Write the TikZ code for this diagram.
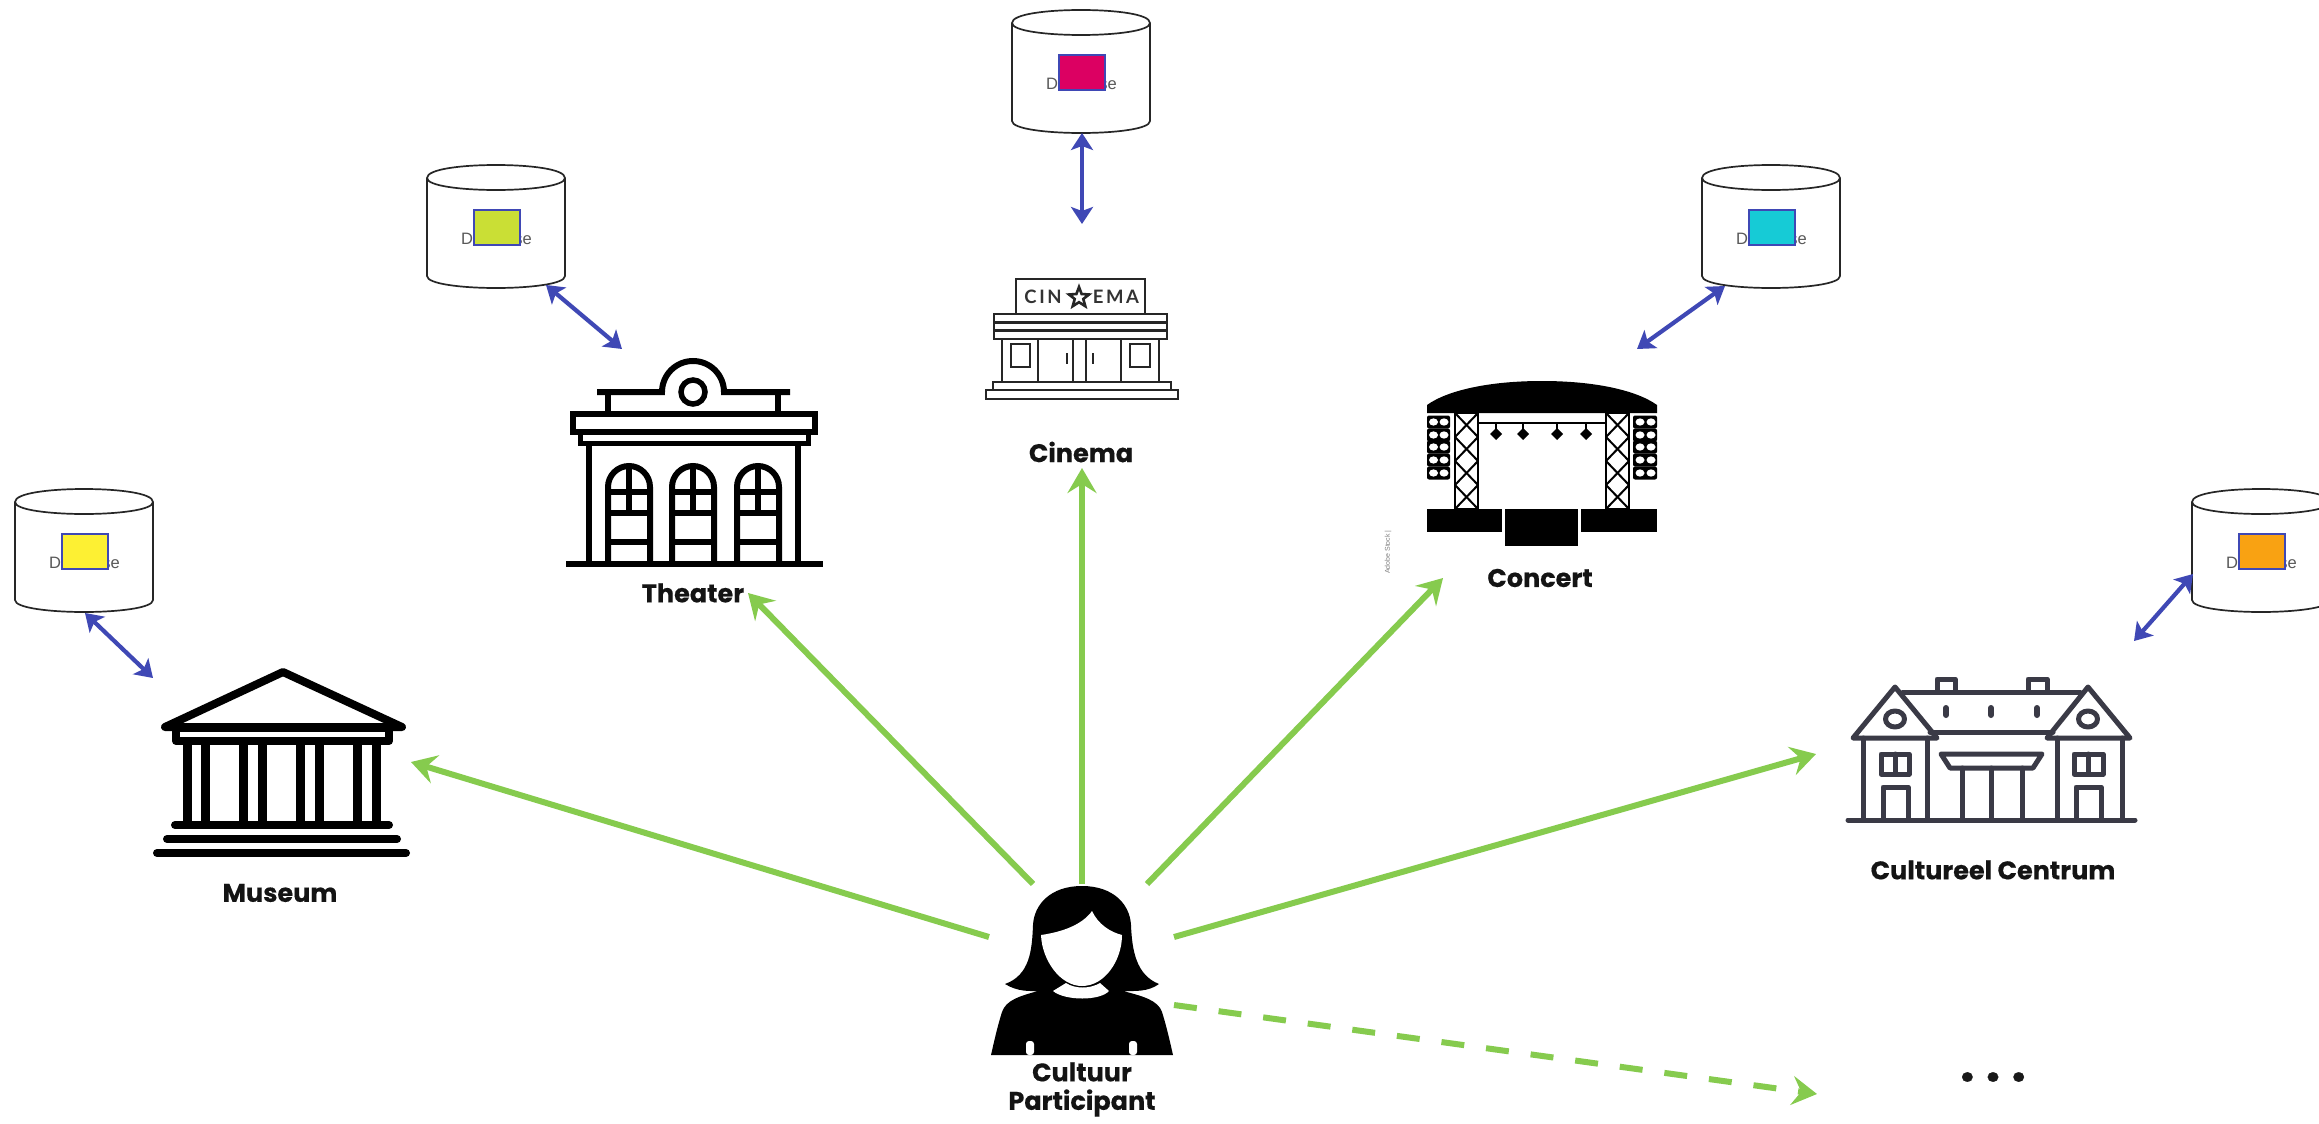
\documentclass[tikz,border=0pt]{standalone}
\usepackage{fontspec}
\setmainfont{Liberation Sans}
\newfontfamily\labfont{Poppins}[BoldFeatures={FakeBold=0.35}]
\newfontfamily\cinfont[LetterSpace=14]{Lato}
\usetikzlibrary{arrows.meta}
\definecolor{grn}{HTML}{86CB4E}
\definecolor{blu}{HTML}{3F48B5}
\definecolor{slate}{HTML}{3A3A46}
\definecolor{dbyellow}{HTML}{FDF033}
\definecolor{dblime}{HTML}{CADF35}
\definecolor{dbred}{HTML}{DC0062}
\definecolor{dbcyan}{HTML}{16CBD6}
\definecolor{dborange}{HTML}{F9A212}
\tikzset{
  lab/.style={font=\labfont\bfseries\fontsize{25.5}{25.5}\selectfont,text=black!92,inner sep=0pt,align=center},
  dbtext/.style={font=\fontsize{16.5}{16.5}\selectfont,text=black!65,inner sep=0pt},
  greenarrow/.style={draw=grn,line width=6pt,-{Stealth[length=25pt,width=29pt,inset=9pt]}},
  bluearrow/.style={draw=blu,line width=4.2pt,{Stealth[length=17pt,width=22pt,inset=4pt]}-{Stealth[length=17pt,width=22pt,inset=4pt]}},
  dbbody/.style={draw=black!85,line width=1.7pt,fill=white},
  dbsquare/.style={draw=blu,line width=2.2pt},
  mus/.style={line width=8pt,line cap=round,line join=round,draw=black},
  the/.style={line width=6pt,draw=black},
  cin/.style={line width=2.6pt,draw=black!85},
  cinlab/.style={font=\cinfont\bfseries\fontsize{18.5}{18.5}\selectfont,text=black!80,inner sep=0pt},
  cen/.style={line width=5pt,draw=slate,line cap=round,line join=round},
}
\newcommand{\database}[4]{% name, left x, top y, colour
  \begin{scope}[shift={(#2,#3)}]
    \path[dbbody] (0,13) -- (0,111) .. controls (0,119) and (35,123) .. (69,123) .. controls (103,123) and (138,119) .. (138,111) -- (138,13)
      .. controls (138,4) and (103,0) .. (69,0) .. controls (35,0) and (0,4) .. (0,13) -- cycle;
    \draw[black!85,line width=1.7pt] (0,13) .. controls (0,21) and (35,25) .. (69,25) .. controls (103,25) and (138,21) .. (138,13);
    \node[dbtext] (#1text) at (69.5,74) {Database};
    \node[dbsquare,fill=#4,minimum width=46pt,minimum height=35pt,inner sep=0pt,anchor=north west] (#1square) at (45.5,44) {};
  \end{scope}}
\begin{document}
\begin{tikzpicture}[x=1pt,y=-1pt]
\useasboundingbox[fill=white] (0,0) rectangle (2319,1124);

% ---------- databases
\database{dbm}{15}{489}{dbyellow}
\database{dbt}{427}{165}{dblime}
\database{dbc}{1012}{10}{dbred}
\database{dbk}{1702}{165}{dbcyan}
\database{dbz}{2192}{489}{dborange}

% ---------- museum
\draw[mus] (165,727) -- (283,672) -- (402,727) -- cycle;
\draw[mus] (176,728) rectangle (389,741);
\foreach \x in {187.5,205.5,243.5,262.5,300.5,319,357.5,376.5}
  \fill (\x-4.5,741) rectangle (\x+4.5,825);
\draw[mus] (175,825) -- (389,825);
\draw[mus] (167,839) -- (397,839);
\draw[mus] (157,853) -- (406,853);

% ---------- theater
\draw[the] (597,392) -- (662,392) arc[start angle=180,end angle=360,radius=31] -- (790,392);
\fill[white] (665,395) rectangle (721,410);
\draw[the,line width=5.5pt] (693,392) circle[radius=12];
\draw[the] (608,392) -- (608,412) (778,392) -- (778,412);
\draw[the] (573,414) rectangle (815,432);
\draw[the,line width=5pt] (580,434) -- (580,443) -- (808,443) -- (808,434);
\draw[the] (589,445) -- (589,564) (798,445) -- (798,564);
\draw[the] (566,564) -- (823,564);
\foreach \x in {629,693,758}{
  \draw[the] (\x-21,564) -- (\x-21,487) arc[start angle=180,end angle=360,radius=21] -- (\x+21,564);
  \draw[the] (\x,466) -- (\x,513);
  \draw[the] (\x-21,492) -- (\x+21,492) (\x-21,513) -- (\x+21,513) (\x-21,542) -- (\x+21,542);
}

% ---------- cinema
\draw[cin] (1016,314) -- (1016,279) -- (1145,279) -- (1145,314);
\node[cinlab] (cinleft) at (1043,296.5) {CIN};
\node[cinlab] (cinright) at (1116,296.5) {EMA};
\draw[cin] (1079,287) -- (1081.6,294) -- (1089,294.5) -- (1083.3,299) -- (1085.3,306.2) -- (1079,302.2) -- (1072.7,306.2) -- (1074.7,299) -- (1069,294.5) -- (1076.4,294) -- cycle;
\draw[cin] (994,314) rectangle (1167,339) (994,322.5) -- (1167,322.5) (994,330.5) -- (1167,330.5);
\draw[cin] (1002,339) -- (1002,382) (1038,339) -- (1038,382) (1073,339) -- (1073,382) (1086,339) -- (1086,382) (1121,339) -- (1121,382) (1159,339) -- (1159,382);
\draw[cin] (1011,344) rectangle (1030,367) (1130,344) rectangle (1150,367);
\draw[cin] (1067,353) -- (1067,364) (1093,353) -- (1093,364);
\draw[cin] (993,390) -- (993,382) -- (1171,382) -- (1171,390);
\draw[cin] (986,390) rectangle (1178,399);

% ---------- concert
\fill (1427,413) -- (1427,405) .. controls (1448,390) and (1490,381) .. (1542,381) .. controls (1594,381) and (1636,390) .. (1657,405) -- (1657,413) -- cycle;
\foreach \x in {1454,1605}{
  \draw[line width=2.8pt] (\x+1,413) rectangle (\x+24,509);
  \foreach \k in {0,1,2,3}
    \draw[line width=2pt] (\x+1,413+24*\k) -- (\x+24,437+24*\k) (\x+24,413+24*\k) -- (\x+1,437+24*\k);
}
\draw[line width=2.8pt] (1479,423) -- (1605,423);
\foreach \x in {1496,1523,1557,1586}{
  \draw[line width=2.2pt] (\x,423) -- (\x,433);
  \fill (\x-6,434) -- (\x,428) -- (\x+6,434) -- (\x,440) -- cycle;
}
\foreach \y in {422,435,447,460,473}{
  \fill[rounded corners=2pt] (1427,\y-6.5) rectangle (1450,\y+6.5);
  \fill[rounded corners=2pt] (1633,\y-6.5) rectangle (1657,\y+6.5);
  \fill[white] (1433.5,\y) ellipse[x radius=4.5,y radius=3.6] (1444,\y) ellipse[x radius=4.5,y radius=3.6] (1640,\y) ellipse[x radius=4.5,y radius=3.6] (1651,\y) ellipse[x radius=4.5,y radius=3.6];
}
\fill (1427,509) rectangle (1502,532);
\fill (1505,509) rectangle (1578,546);
\fill (1581,509) rectangle (1657,532);
\node[rotate=90,anchor=west,font=\fontsize{7}{7}\selectfont,text=black!50,inner sep=0pt] (stockmark) at (1388,574) {Adobe Stock |};

% ---------- cultural centre
\draw[cen] (1853,738) -- (1895,687) -- (1937,738) -- cycle;
\draw[cen] (2047,738) -- (2088,687) -- (2130,738) -- cycle;
\draw[cen] (1903,692) -- (2080,692) (1930,732) -- (2053,732);
\draw[cen] (1937,692) -- (1937,679) -- (1955,679) -- (1955,692);
\draw[cen] (2028,692) -- (2028,679) -- (2047,679) -- (2047,692);
\draw[cen,line width=6pt] (1946,708) -- (1946,715) (1991,708) -- (1991,715) (2037,708) -- (2037,715);
\draw[cen] (1895,719) ellipse[x radius=9.5,y radius=8] (2088,719) ellipse[x radius=9.5,y radius=8];
\draw[cen] (1863,738) -- (1863,820) (1927,738) -- (1927,820) (2057,738) -- (2057,820) (2122,738) -- (2122,820);
\draw[cen] (1881,754) rectangle (1909,774) (1895,754) -- (1895,774);
\draw[cen] (2074,754) rectangle (2103,774) (2088,754) -- (2088,774);
\draw[cen] (1883,820) -- (1883,787) -- (1908,787) -- (1908,820);
\draw[cen] (2076,820) -- (2076,787) -- (2101,787) -- (2101,820);
\draw[cen] (1941,754) -- (2042,754) -- (2033,768) -- (1950,768) -- cycle;
\draw[cen] (1962,768) -- (1962,820) (1991,768) -- (1991,820) (2022,768) -- (2022,820);
\draw[cen] (1848,820) -- (2135,820);

% ---------- participant
\fill (1082,886) .. controls (1050,886) and (1034,905) .. (1033,925)
  .. controls (1032,950) and (1030,975) .. (1005,984)
  .. controls (1018,992) and (1030,991) .. (1038,991)
  .. controls (1020,996) and (1006,1000) .. (1002,1012)
  .. controls (997,1028) and (994,1042) .. (991,1055)
  -- (1173,1055)
  .. controls (1170,1042) and (1167,1028) .. (1162,1012)
  .. controls (1158,1000) and (1142,996) .. (1123,991)
  .. controls (1135,991) and (1148,992) .. (1159,984)
  .. controls (1136,975) and (1132,950) .. (1131,925)
  .. controls (1130,905) and (1114,886) .. (1082,886) -- cycle;
\fill[white] (1041,935) .. controls (1062,932) and (1082,925) .. (1092,911)
  .. controls (1098,924) and (1110,932) .. (1122,935)
  .. controls (1122,960) and (1105,986) .. (1082,986)
  .. controls (1060,986) and (1042,960) .. (1041,935) -- cycle;
\fill[white] (1066,983) .. controls (1075,989) and (1090,989) .. (1100,983) -- (1109,991)
  .. controls (1100,1001) and (1065,1001) .. (1053,991) -- cycle;
\fill[white,rounded corners=3pt] (1026,1055) -- (1026,1041) -- (1034,1041) -- (1034,1055) -- cycle;
\fill[white,rounded corners=3pt] (1129,1055) -- (1129,1041) -- (1137,1041) -- (1137,1055) -- cycle;

% ---------- labels
\node[lab] (museum) at (280,893) {Museum};
\node[lab] (theater) at (693,593) {Theater};
\node[lab] (cinema) at (1081,452) {Cinema};
\node[lab] (concert) at (1540,578) {Concert};
\node[lab] (centrum) at (1993,870) {Cultureel Centrum};
\node[lab] (cultuur) at (1082,1072) {Cultuur};
\node[lab] (participant) at (1082,1103) {Participant};
\node[font=\labfont\bfseries\fontsize{52}{52}\selectfont,text=black!90,inner sep=0pt] (more) at (1993,1077) {.\kern 11pt.\kern 11pt.};

% ---------- connector ends
\coordinate (pM) at (989,937);
\coordinate (pT) at (1033,884);
\coordinate (pC) at (1082,884);
\coordinate (pK) at (1147,884);
\coordinate (pZ) at (1174,937);
\coordinate (pX) at (1174,1005);
\coordinate (gM) at (411,762);
\coordinate (gT) at (748,593);
\coordinate (gC) at (1082,468);
\coordinate (gK) at (1443,578);
\coordinate (gZ) at (1816,754);
\coordinate (gX) at (1817,1094);
\coordinate (aM) at (85,613);   \coordinate (bM) at (153,678);
\coordinate (aT) at (546,285);  \coordinate (bT) at (622,349);
\coordinate (aC) at (1082,133); \coordinate (bC) at (1082,224);
\coordinate (aK) at (1725,286); \coordinate (bK) at (1637,349);
\coordinate (aZ) at (2193,574); \coordinate (bZ) at (2134,641);

\draw[greenarrow] (pM) -- (gM);
\draw[greenarrow] (pT) -- (gT);
\draw[greenarrow] (pC) -- (gC);
\draw[greenarrow] (pK) -- (gK);
\draw[greenarrow] (pZ) -- (gZ);
\draw[greenarrow,dash pattern=on 23pt off 22pt] (pX) -- (gX);
\draw[bluearrow] (aM) -- (bM);
\draw[bluearrow] (aT) -- (bT);
\draw[bluearrow] (aC) -- (bC);
\draw[bluearrow] (aK) -- (bK);
\draw[bluearrow] (aZ) -- (bZ);
\end{tikzpicture}
\end{document}
